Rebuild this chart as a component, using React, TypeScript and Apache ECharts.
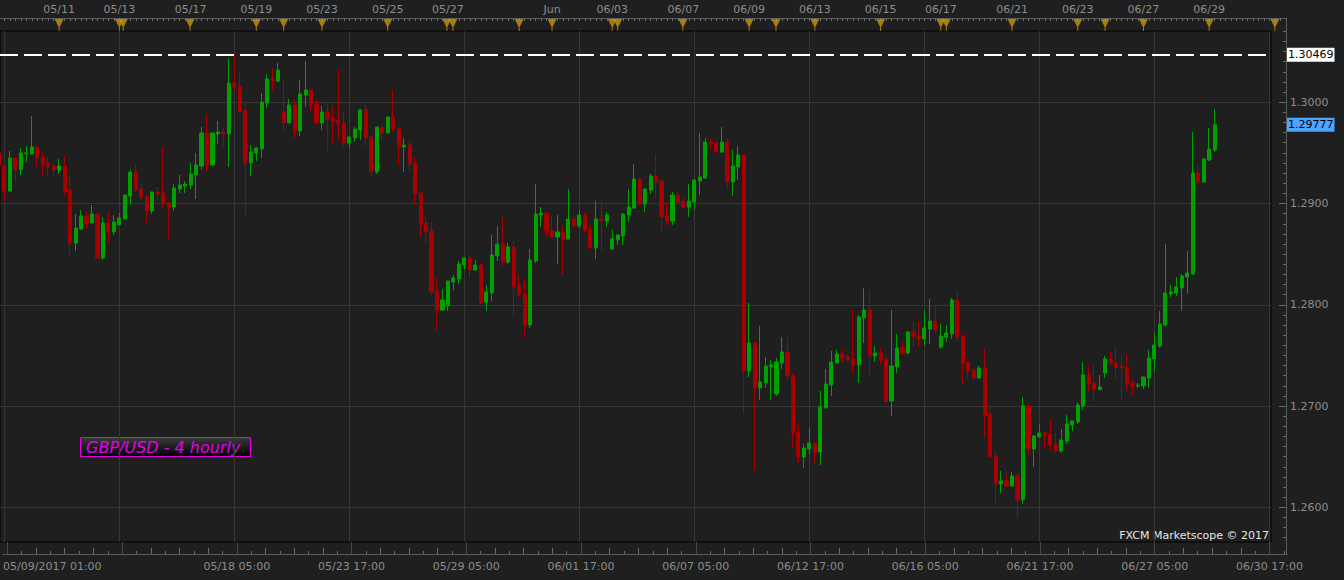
import React, { useEffect, useRef } from "react";
import * as echarts from "echarts";

// ---------- data ----------
const SYMBOL_LABEL = "GBP/USD - 4 hourly";
const WATERMARK = "FXCM Marketscope © 2017";
const FIRST_TIME_LABEL = "05/09/2017 01:00";
const FIRST_BAR = -1; // first (partly hidden) candle index

// 4-hourly candles: [open, close, low, high]
const CANDLES: [number, number, number, number][] = [
  [1.29512, 1.2937, 1.29364, 1.29528],
  [1.2937, 1.29123, 1.29025, 1.2938],
  [1.29123, 1.29449, 1.29113, 1.29518],
  [1.29449, 1.29334, 1.29212, 1.29456],
  [1.29334, 1.29499, 1.29281, 1.29548],
  [1.29492, 1.29499, 1.29409, 1.29568],
  [1.29489, 1.29558, 1.29479, 1.29864],
  [1.29558, 1.29452, 1.2936, 1.29568],
  [1.29459, 1.29393, 1.29271, 1.29508],
  [1.294, 1.2936, 1.29281, 1.29459],
  [1.2937, 1.29331, 1.29261, 1.29409],
  [1.29331, 1.2937, 1.29291, 1.29439],
  [1.2937, 1.29123, 1.29084, 1.29469],
  [1.29133, 1.2861, 1.28482, 1.29281],
  [1.2861, 1.28758, 1.28531, 1.28896],
  [1.28748, 1.28876, 1.28738, 1.28936],
  [1.28876, 1.28807, 1.28748, 1.28926],
  [1.28807, 1.28896, 1.28804, 1.28985],
  [1.28896, 1.28462, 1.28459, 1.28906],
  [1.28462, 1.28807, 1.28442, 1.28866],
  [1.28807, 1.28719, 1.2861, 1.28926],
  [1.28719, 1.28817, 1.28689, 1.28886],
  [1.28788, 1.28857, 1.28785, 1.28906],
  [1.28847, 1.29084, 1.28844, 1.29087],
  [1.29074, 1.29311, 1.28985, 1.2934],
  [1.29311, 1.29133, 1.29113, 1.2939],
  [1.29143, 1.29064, 1.29025, 1.29202],
  [1.29074, 1.28926, 1.28807, 1.29084],
  [1.28926, 1.29113, 1.28896, 1.29116],
  [1.29113, 1.29093, 1.29025, 1.29162],
  [1.29103, 1.28995, 1.28955, 1.29558],
  [1.29005, 1.28965, 1.2864, 1.29015],
  [1.28965, 1.29153, 1.28926, 1.29192],
  [1.29143, 1.29182, 1.29103, 1.29281],
  [1.29172, 1.29192, 1.29103, 1.29222],
  [1.29182, 1.29291, 1.29143, 1.294],
  [1.29281, 1.2938, 1.29044, 1.29499],
  [1.2937, 1.29696, 1.29331, 1.29755],
  [1.29696, 1.2938, 1.29321, 1.29884],
  [1.2938, 1.29696, 1.29377, 1.29699],
  [1.29686, 1.29706, 1.29587, 1.29814],
  [1.29706, 1.29686, 1.29568, 1.29745],
  [1.29686, 1.3019, 1.2936, 1.30436],
  [1.3019, 1.3015, 1.3012, 1.30469],
  [1.3016, 1.29913, 1.29893, 1.30288],
  [1.29923, 1.294, 1.28866, 1.29982],
  [1.29403, 1.29508, 1.29271, 1.29577],
  [1.29499, 1.29548, 1.2942, 1.29558],
  [1.29538, 1.30002, 1.29449, 1.30091],
  [1.29992, 1.30229, 1.29943, 1.30278],
  [1.30229, 1.30209, 1.30114, 1.30338],
  [1.30209, 1.30318, 1.30199, 1.30387],
  [1.29903, 1.29795, 1.29726, 1.30229],
  [1.29795, 1.29972, 1.29791, 1.30032],
  [1.29972, 1.29716, 1.29647, 1.30032],
  [1.29716, 1.30081, 1.29666, 1.30219],
  [1.30071, 1.3012, 1.29953, 1.30407],
  [1.3012, 1.29972, 1.29913, 1.30124],
  [1.29982, 1.29795, 1.29791, 1.30032],
  [1.29795, 1.29903, 1.29726, 1.29962],
  [1.29903, 1.29834, 1.29518, 1.29992],
  [1.29844, 1.29814, 1.29597, 1.29962],
  [1.29824, 1.29785, 1.29637, 1.30318],
  [1.29795, 1.29597, 1.29558, 1.29903],
  [1.29597, 1.29656, 1.29548, 1.2966],
  [1.29647, 1.29735, 1.29607, 1.29755],
  [1.29726, 1.29923, 1.29627, 1.29933],
  [1.29923, 1.29647, 1.29568, 1.29972],
  [1.29656, 1.29311, 1.29262, 1.29666],
  [1.29311, 1.29755, 1.29291, 1.29758],
  [1.29755, 1.29696, 1.29617, 1.29775],
  [1.29696, 1.29854, 1.29693, 1.29857],
  [1.29854, 1.29735, 1.29706, 1.3012],
  [1.29745, 1.29558, 1.2938, 1.29749],
  [1.29558, 1.29577, 1.29311, 1.29647],
  [1.29577, 1.2939, 1.29321, 1.29607],
  [1.294, 1.29094, 1.28985, 1.29449],
  [1.29104, 1.28797, 1.28659, 1.29107],
  [1.28807, 1.28718, 1.286, 1.28887],
  [1.28728, 1.28126, 1.28097, 1.28817],
  [1.28136, 1.27948, 1.27751, 1.28265],
  [1.27948, 1.28047, 1.27938, 1.28156],
  [1.27988, 1.28235, 1.27938, 1.28238],
  [1.28225, 1.28265, 1.28146, 1.28294],
  [1.28255, 1.28403, 1.28205, 1.28432],
  [1.28393, 1.28462, 1.28353, 1.28472],
  [1.28462, 1.28343, 1.28275, 1.28492],
  [1.28343, 1.28393, 1.2834, 1.28442],
  [1.28393, 1.28027, 1.28008, 1.28403],
  [1.28027, 1.28126, 1.27938, 1.28195],
  [1.28116, 1.28492, 1.28037, 1.28689],
  [1.28482, 1.286, 1.28432, 1.28778],
  [1.286, 1.28422, 1.28383, 1.28867],
  [1.28422, 1.28571, 1.28403, 1.2861],
  [1.28571, 1.28176, 1.2789, 1.2863],
  [1.28186, 1.28097, 1.28077, 1.28304],
  [1.28107, 1.27801, 1.27682, 1.28245],
  [1.27801, 1.28442, 1.27771, 1.28551],
  [1.28432, 1.28896, 1.28413, 1.29192],
  [1.28886, 1.28906, 1.28768, 1.28965],
  [1.28906, 1.28728, 1.28669, 1.28909],
  [1.28738, 1.28669, 1.28666, 1.28876],
  [1.28669, 1.28719, 1.28403, 1.28886],
  [1.28719, 1.2865, 1.28294, 1.28778],
  [1.2865, 1.28847, 1.28646, 1.29143],
  [1.28847, 1.28778, 1.28748, 1.28886],
  [1.28778, 1.28886, 1.28758, 1.28936],
  [1.28886, 1.28738, 1.28709, 1.28916],
  [1.28748, 1.28561, 1.28551, 1.28788],
  [1.28561, 1.28847, 1.28452, 1.29025],
  [1.28847, 1.28827, 1.28541, 1.29025],
  [1.28827, 1.28886, 1.28768, 1.28916],
  [1.28551, 1.2865, 1.28541, 1.28738],
  [1.2864, 1.28689, 1.28591, 1.28699],
  [1.28679, 1.28896, 1.28591, 1.289],
  [1.28886, 1.28965, 1.28817, 1.29143],
  [1.28955, 1.29242, 1.28946, 1.2939],
  [1.29242, 1.28995, 1.28992, 1.29262],
  [1.28995, 1.29143, 1.28916, 1.29146],
  [1.29133, 1.29271, 1.29094, 1.29291],
  [1.29271, 1.29212, 1.29054, 1.29489],
  [1.29222, 1.28867, 1.28709, 1.29232],
  [1.28876, 1.28827, 1.28778, 1.29015],
  [1.28827, 1.29084, 1.28788, 1.29113],
  [1.29084, 1.29015, 1.29011, 1.29123],
  [1.29025, 1.28965, 1.28955, 1.29054],
  [1.28965, 1.29025, 1.28867, 1.29192],
  [1.29015, 1.29232, 1.28936, 1.29235],
  [1.29222, 1.29262, 1.29084, 1.29696],
  [1.29252, 1.29607, 1.29248, 1.29647],
  [1.29607, 1.29587, 1.29538, 1.29647],
  [1.29597, 1.29508, 1.29505, 1.29617],
  [1.29508, 1.29607, 1.29499, 1.29755],
  [1.29607, 1.29212, 1.29143, 1.29637],
  [1.29212, 1.2937, 1.29074, 1.29528],
  [1.2936, 1.29479, 1.29232, 1.29568],
  [1.29479, 1.27347, 1.26922, 1.29482],
  [1.27347, 1.27623, 1.27287, 1.28018],
  [1.27623, 1.27179, 1.26359, 1.27626],
  [1.27179, 1.27238, 1.2706, 1.27791],
  [1.27228, 1.27396, 1.27179, 1.27485],
  [1.27386, 1.27406, 1.2706, 1.27455],
  [1.2712, 1.27435, 1.271, 1.27475],
  [1.27425, 1.27534, 1.27366, 1.27682],
  [1.27534, 1.27297, 1.27248, 1.27682],
  [1.27307, 1.26734, 1.26586, 1.27317],
  [1.26744, 1.26497, 1.26438, 1.26833],
  [1.26497, 1.26586, 1.26389, 1.26626],
  [1.26576, 1.26636, 1.26527, 1.26784],
  [1.26636, 1.26547, 1.26438, 1.26646],
  [1.26547, 1.26991, 1.26418, 1.27149],
  [1.26981, 1.27218, 1.26978, 1.27366],
  [1.27208, 1.27435, 1.271, 1.27544],
  [1.27425, 1.27514, 1.27422, 1.27554],
  [1.27514, 1.27475, 1.27425, 1.27554],
  [1.27485, 1.27455, 1.27435, 1.27514],
  [1.27465, 1.27406, 1.27327, 1.27949],
  [1.27406, 1.2788, 1.27228, 1.27899],
  [1.2787, 1.27949, 1.27623, 1.28166],
  [1.27949, 1.27495, 1.27297, 1.28146],
  [1.27495, 1.27524, 1.27435, 1.27593],
  [1.27524, 1.27455, 1.27406, 1.27574],
  [1.27465, 1.2705, 1.27021, 1.27495],
  [1.2705, 1.27396, 1.26902, 1.27949],
  [1.27386, 1.27574, 1.27327, 1.27712],
  [1.27574, 1.27524, 1.27504, 1.27643],
  [1.27524, 1.27732, 1.27504, 1.27742],
  [1.27732, 1.27682, 1.27593, 1.2784],
  [1.27692, 1.27663, 1.27583, 1.2783],
  [1.27663, 1.27771, 1.27593, 1.27949],
  [1.27761, 1.2784, 1.27613, 1.28057],
  [1.2784, 1.27751, 1.27722, 1.27988],
  [1.27583, 1.27692, 1.27564, 1.27811],
  [1.27682, 1.27722, 1.27633, 1.27801],
  [1.27712, 1.28047, 1.27663, 1.28067],
  [1.28047, 1.27682, 1.27633, 1.28136],
  [1.27692, 1.27425, 1.27218, 1.27712],
  [1.27435, 1.27347, 1.27277, 1.27438],
  [1.27356, 1.27277, 1.27238, 1.27376],
  [1.27277, 1.27376, 1.27274, 1.27396],
  [1.27376, 1.26912, 1.26685, 1.27574],
  [1.26922, 1.26498, 1.26494, 1.27011],
  [1.26507, 1.26231, 1.26034, 1.26557],
  [1.26231, 1.26261, 1.26142, 1.26359],
  [1.26261, 1.26211, 1.26208, 1.2634],
  [1.26211, 1.2631, 1.26208, 1.2635],
  [1.2631, 1.26073, 1.25895, 1.2634],
  [1.26073, 1.27001, 1.26034, 1.2709],
  [1.27001, 1.26576, 1.26507, 1.27021],
  [1.26576, 1.26705, 1.26399, 1.26715],
  [1.26695, 1.26735, 1.26692, 1.26823],
  [1.26735, 1.26715, 1.26576, 1.26738],
  [1.26725, 1.26616, 1.26566, 1.26863],
  [1.26626, 1.26557, 1.26547, 1.26735],
  [1.26557, 1.26665, 1.26537, 1.26774],
  [1.26656, 1.26823, 1.26626, 1.26912],
  [1.26813, 1.26853, 1.26754, 1.26856],
  [1.26843, 1.27011, 1.26823, 1.27041],
  [1.27001, 1.27307, 1.26962, 1.27435],
  [1.27307, 1.27218, 1.27139, 1.27396],
  [1.27228, 1.27162, 1.27051, 1.27416],
  [1.27162, 1.27189, 1.27159, 1.27307],
  [1.27327, 1.27465, 1.27277, 1.27494],
  [1.27465, 1.27416, 1.27412, 1.27534],
  [1.27425, 1.27386, 1.27258, 1.27583],
  [1.27396, 1.27376, 1.2706, 1.27504],
  [1.27386, 1.27218, 1.27149, 1.27514],
  [1.27228, 1.27198, 1.271, 1.27258],
  [1.27198, 1.27208, 1.27179, 1.27228],
  [1.27198, 1.27287, 1.27169, 1.27291],
  [1.27277, 1.27475, 1.27179, 1.27554],
  [1.27465, 1.27603, 1.27337, 1.27722],
  [1.27593, 1.2781, 1.27574, 1.27939],
  [1.27801, 1.28116, 1.27781, 1.286],
  [1.28107, 1.28126, 1.28077, 1.28195],
  [1.28116, 1.28176, 1.28087, 1.28274],
  [1.28166, 1.28284, 1.27939, 1.28304],
  [1.28274, 1.28314, 1.28107, 1.28531],
  [1.28304, 1.29301, 1.28301, 1.29706],
  [1.29301, 1.29212, 1.29193, 1.2938],
  [1.29212, 1.29439, 1.29209, 1.29449],
  [1.29429, 1.29538, 1.2942, 1.29745],
  [1.29528, 1.29777, 1.29508, 1.29933],
];

const HIGH_LEVEL = 1.30469;
const PRICE_TICKS = [1.26, 1.27, 1.28, 1.29, 1.3];

// vertical grid lines / major time ticks (bar indices)
const GRID_BARS = [0, 21, 42, 63, 84, 105, 126, 147, 168, 189, 210, 231];
const BOTTOM_LABEL_BARS = [42, 63, 84, 105, 126, 147, 168, 189, 210, 231];
const BOTTOM_LABELS = [
  "05/18 05:00", "05/23 17:00", "05/29 05:00", "06/01 17:00", "06/07 05:00",
  "06/12 17:00", "06/16 05:00", "06/21 17:00", "06/27 05:00", "06/30 17:00",
];
const TOP_LABEL_BARS = [10, 21, 34, 46, 58, 70, 81, 100, 111, 124, 136, 148, 160, 171, 184, 196, 208, 220];
const TOP_LABELS = [
  "05/11", "05/13", "05/17", "05/19", "05/23", "05/25", "05/27", "Jun", "06/03",
  "06/07", "06/09", "06/13", "06/15", "06/17", "06/21", "06/23", "06/27", "06/29",
];
const EVENT_BARS = [
  10, 21, 21.7, 33.9, 46, 51, 58, 70, 80.8, 81.9, 94, 100, 111, 112, 123.9, 136,
  140.9, 148, 160, 171, 172, 184, 196, 201, 208, 220, 232,
];

// ---------- style / layout ----------
const BG = "#1f1f1f";
const GRID_C = "#363636";
const AXIS_C = "#5c5c5c";
const TICK_C = "#6a6a6a";
const LABEL_C = "#8c8c8c";
const UP = "#00a000";
const DOWN = "#a80000";
const GOLD = "#c8960a";
const MAGENTA = "#e600e6";
const FONT = "DejaVu Sans";

const PLOT_W = 1271;
const PLOT_TOP = 31;
const PLOT_H = 511;
const X_MIN = -0.8;
const X_MAX = 231.29;
const Y_MIN = 1.25658;
const Y_MAX = 1.30703;

function buildOption() {
  const pxPerBar = PLOT_W / (X_MAX - X_MIN);
  const xMaxFor = (w: number) => X_MIN + w / pxPerBar;
  const pxPerUnit = PLOT_H / (Y_MAX - Y_MIN);
  const yAxMax = Y_MAX + 13 / pxPerUnit;
  const yAxMin = Y_MIN - 12 / pxPerUnit;

  const topTicks: number[] = [];
  for (let b = 0; b <= 234; b++) topTicks.push(b);
  const minorLong: number[] = [];
  const minorShort: number[] = [];
  GRID_BARS.forEach((g) => {
    for (let k = 1; k < 8; k++) {
      const v = g + (k * 21) / 8;
      (k % 2 === 0 ? minorLong : minorShort).push(v);
    }
  });
  const minorPrices: number[] = [];
  for (let i = 1257; i <= 1307; i++) minorPrices.push(i / 1000);

  const last = CANDLES[CANDLES.length - 1][1];
  const data = CANDLES.map((c, i) => [FIRST_BAR + i, c[0], c[1], c[2], c[3]]);

  const lbl = (bars: number[], texts: string[]) => (v: number) => {
    const i = bars.findIndex((b) => Math.abs(b - v) < 1e-6);
    return i >= 0 ? texts[i] : "";
  };

  const hiddenY = (gridIndex: number) => ({
    type: "value", gridIndex, min: 0, max: 1, show: false,
  });

  const priceTag = (bg: string, text: string) => ({
    show: true, position: "end", distance: 16, formatter: text,
    backgroundColor: bg, color: "#000", padding: [2, 1, 1, 1], fontSize: 11, fontFamily: FONT,
  });

  return {
    animation: false,
    backgroundColor: BG,
    textStyle: { fontFamily: FONT },
    grid: [
      { left: 0, top: PLOT_TOP, width: PLOT_W, height: PLOT_H, show: true, borderColor: "#000", borderWidth: 1, backgroundColor: "transparent" },
      { left: 0, top: 18, width: 1286, height: 13 },
      { left: 0, top: PLOT_TOP + PLOT_H, width: 1287, height: 12 },
      { left: 0, top: 18, width: PLOT_W, height: 536 },
    ],
    xAxis: [
      {
        type: "value", gridIndex: 0, min: X_MIN, max: X_MAX,
        axisLine: { show: false, onZero: false },
        axisLabel: { show: false },
        axisTick: { show: false, customValues: GRID_BARS },
        splitLine: { show: true, lineStyle: { color: GRID_C, width: 1 } },
      },
      {
        type: "value", gridIndex: 1, position: "top", min: X_MIN, max: xMaxFor(1286),
        axisLine: { show: true, onZero: false, lineStyle: { color: AXIS_C } },
        axisTick: { show: true, inside: true, length: 3, customValues: topTicks, lineStyle: { color: TICK_C } },
        axisLabel: { show: true, customValues: TOP_LABEL_BARS, formatter: lbl(TOP_LABEL_BARS, TOP_LABELS), color: LABEL_C, fontSize: 11, fontFamily: FONT, margin: 3 },
        splitLine: { show: false },
      },
      {
        type: "value", gridIndex: 2, position: "bottom", min: X_MIN, max: xMaxFor(1287),
        axisLine: { show: true, onZero: false, lineStyle: { color: AXIS_C } },
        axisTick: { show: true, inside: true, length: 12, customValues: GRID_BARS, lineStyle: { color: "#484848" } },
        axisLabel: { show: true, customValues: BOTTOM_LABEL_BARS, formatter: lbl(BOTTOM_LABEL_BARS, BOTTOM_LABELS), color: LABEL_C, fontSize: 11, fontFamily: FONT, margin: 7 },
        splitLine: { show: false },
      },
      {
        type: "value", gridIndex: 2, position: "bottom", min: X_MIN, max: xMaxFor(1287),
        axisLine: { show: false, onZero: false },
        axisTick: { show: true, inside: true, length: 6, customValues: minorLong, lineStyle: { color: TICK_C } },
        axisLabel: { show: false },
        splitLine: { show: false },
      },
      {
        type: "value", gridIndex: 2, position: "bottom", min: X_MIN, max: xMaxFor(1287),
        axisLine: { show: false, onZero: false },
        axisTick: { show: true, inside: true, length: 3, customValues: minorShort, lineStyle: { color: TICK_C } },
        axisLabel: { show: false },
        splitLine: { show: false },
      },
      {
        type: "value", gridIndex: 2, position: "bottom", min: X_MIN, max: xMaxFor(1287),
        axisLine: { show: false, onZero: false },
        axisTick: { show: false },
        axisLabel: { show: true, customValues: [X_MIN], formatter: () => FIRST_TIME_LABEL, align: "left", color: LABEL_C, fontSize: 11, fontFamily: FONT, margin: 7 },
        splitLine: { show: false },
      },
      { type: "value", gridIndex: 3, min: X_MIN, max: X_MAX, show: false },
    ],
    yAxis: [
      {
        type: "value", gridIndex: 0, min: Y_MIN, max: Y_MAX, position: "right",
        axisLine: { show: false, onZero: false },
        axisLabel: { show: false },
        axisTick: { show: false, customValues: PRICE_TICKS },
        splitLine: { show: true, lineStyle: { color: GRID_C, width: 1 } },
      },
      hiddenY(1),
      hiddenY(2),
      {
        type: "value", gridIndex: 3, position: "right", offset: 15, min: yAxMin, max: yAxMax,
        axisLine: { show: true, onZero: false, lineStyle: { color: AXIS_C } },
        axisTick: { show: true, inside: true, length: 7, customValues: PRICE_TICKS, lineStyle: { color: TICK_C } },
        axisLabel: { show: true, customValues: PRICE_TICKS, formatter: (v: number) => v.toFixed(4), color: LABEL_C, fontSize: 11, fontFamily: FONT, margin: 4 },
        splitLine: { show: false },
      },
      {
        type: "value", gridIndex: 3, position: "right", offset: 15, min: yAxMin, max: yAxMax,
        axisLine: { show: false, onZero: false },
        axisTick: { show: true, inside: true, length: 3, customValues: minorPrices, lineStyle: { color: TICK_C } },
        axisLabel: { show: false },
        splitLine: { show: false },
      },
    ],
    series: [
      {
        type: "candlestick",
        xAxisIndex: 0,
        yAxisIndex: 0,
        data,
        encode: { x: 0, y: [1, 2, 3, 4] },
        barWidth: 3.6,
        itemStyle: { color: UP, color0: DOWN, borderColor: UP, borderColor0: DOWN, borderWidth: 1 },
        markLine: {
          silent: true,
          precision: 5,
          symbol: ["none", "none"],
          data: [
            {
              yAxis: HIGH_LEVEL,
              lineStyle: { color: "#ffffff", width: 2, type: [18, 6] },
              label: priceTag("#ffffff", HIGH_LEVEL.toFixed(5)),
            },
            {
              yAxis: last,
              lineStyle: { color: "rgba(0,0,0,0)", width: 1, type: "solid" },
              label: priceTag("#4ca6ff", last.toFixed(5)),
            },
          ],
        },
      },
      {
        type: "scatter",
        xAxisIndex: 1,
        yAxisIndex: 1,
        data: EVENT_BARS.map((b) => [b, 0]),
        symbol: "path://M0,0L9,0L5,8L5,12L4,12L4,8Z",
        symbolSize: [9, 12],
        symbolOffset: [0, -6],
        itemStyle: { color: GOLD },
        silent: true,
        clip: false,
      },
    ],
    graphic: [
      {
        type: "rect",
        shape: { x: 80.5, y: 437.5, width: 170, height: 19 },
        style: {
          fill: new echarts.graphic.LinearGradient(0, 0, 0, 1, [
            { offset: 0, color: "#3a3a3a" },
            { offset: 1, color: "#000000" },
          ]),
          stroke: MAGENTA,
          lineWidth: 1,
        },
      },
      {
        type: "text",
        x: 86,
        y: 447,
        style: { text: SYMBOL_LABEL, fill: MAGENTA, font: `italic 16px "${FONT}"`, verticalAlign: "middle" },
      },
      {
        type: "text",
        x: 1269,
        y: 535,
        style: { text: WATERMARK, fill: "#e6e6e6", font: `11px "${FONT}"`, align: "right", verticalAlign: "middle" },
      },
    ],
  };
}

export default function App() {
  const ref = useRef<HTMLDivElement>(null);
  useEffect(() => {
    document.body.style.margin = "0";
    document.body.style.background = BG;
    const chart = echarts.init(ref.current as HTMLDivElement, null, { renderer: "svg" });
    chart.setOption(buildOption() as any);
    return () => chart.dispose();
  }, []);
  return <div ref={ref} style={{ width: 1344, height: 580, background: BG }} />;
}
